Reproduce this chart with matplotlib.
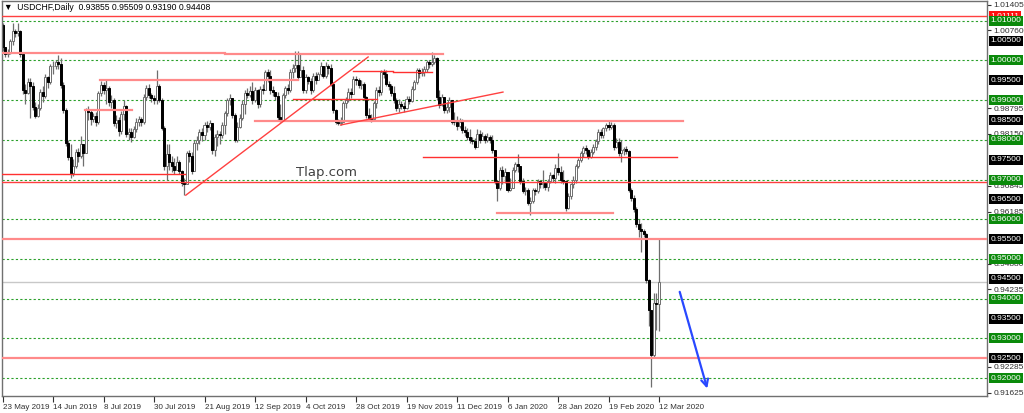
import numpy as np
import matplotlib
matplotlib.use('Agg')
import matplotlib.pyplot as plt
import matplotlib.transforms as mtransforms

plt.rcParams['font.family'] = ['Liberation Sans', 'DejaVu Sans']

# daily USDCHF bars, 23 May 2019 .. 12 Mar 2020 (open = previous close)
first_open = 1.0090
close = [
    1.0033, 1.0017, 1.0021, 1.0050, 1.0075, 1.0068, 1.0073, 1.0017, 0.9925, 0.9917,
    0.9946, 0.9935, 0.9883, 0.9860, 0.9880, 0.9920, 0.9910, 0.9958, 0.9945, 0.9985,
    0.9985, 0.9995, 0.9990, 0.9938, 0.9875, 0.9792, 0.9758, 0.9717, 0.9735, 0.9770,
    0.9760, 0.9790, 0.9768, 0.9875, 0.9870, 0.9852, 0.9860, 0.9846, 0.9917, 0.9938,
    0.9925, 0.9930, 0.9895, 0.9900, 0.9842, 0.9850, 0.9822, 0.9865, 0.9885, 0.9815,
    0.9820, 0.9808, 0.9828, 0.9845, 0.9852, 0.9845, 0.9908, 0.9930, 0.9912, 0.9905,
    0.9900, 0.9935, 0.9900, 0.9830, 0.9733, 0.9765, 0.9745, 0.9735, 0.9725, 0.9745,
    0.9722, 0.9692, 0.9690, 0.9767, 0.9760, 0.9722, 0.9792, 0.9800, 0.9820, 0.9812,
    0.9837, 0.9832, 0.9842, 0.9775, 0.9808, 0.9815, 0.9812, 0.9838, 0.9867, 0.9900,
    0.9905, 0.9863, 0.9800, 0.9833, 0.9855, 0.9890, 0.9917, 0.9912, 0.9922, 0.9900,
    0.9925, 0.9890, 0.9928, 0.9925, 0.9970, 0.9960, 0.9925, 0.9920, 0.9910, 0.9858,
    0.9850, 0.9912, 0.9930, 0.9925, 0.9970, 0.9980, 0.9988, 0.9958, 0.9975, 0.9925,
    0.9958, 0.9948, 0.9925, 0.9962, 0.9950, 0.9965, 0.9987, 0.9960, 0.9987, 0.9980,
    0.9942, 0.9875, 0.9846, 0.9842, 0.9845, 0.9892, 0.9900, 0.9921, 0.9915, 0.9954,
    0.9950, 0.9938, 0.9942, 0.9908, 0.9862, 0.9855, 0.9852, 0.9892, 0.9925, 0.9920,
    0.9970, 0.9965, 0.9942, 0.9935, 0.9917, 0.9900, 0.9880, 0.9890, 0.9885, 0.9880,
    0.9904, 0.9898, 0.9929, 0.9946, 0.9975, 0.9968, 0.9972, 0.9979, 0.9996, 0.9990,
    0.9996, 1.0005, 0.9908, 0.9888, 0.9908, 0.9875, 0.9882, 0.9900, 0.9846, 0.9845,
    0.9835, 0.9845, 0.9825, 0.9820, 0.9808, 0.9800, 0.9796, 0.9783, 0.9815, 0.9800,
    0.9810, 0.9800, 0.9808, 0.9800, 0.9775, 0.9696, 0.9680, 0.9725, 0.9710, 0.9720,
    0.9675, 0.9680, 0.9725, 0.9738, 0.9735, 0.9696, 0.9671, 0.9675, 0.9642, 0.9645,
    0.9675, 0.9670, 0.9696, 0.9688, 0.9692, 0.9682, 0.9696, 0.9712, 0.9705, 0.9730,
    0.9720, 0.9700, 0.9696, 0.9629, 0.9658, 0.9688, 0.9700, 0.9733, 0.9750, 0.9767,
    0.9779, 0.9775, 0.9758, 0.9770, 0.9783, 0.9796, 0.9821, 0.9812, 0.9829, 0.9837,
    0.9832, 0.9838, 0.9783, 0.9795, 0.9767, 0.9775, 0.9778, 0.9772, 0.9675, 0.9654,
    0.9625, 0.9588, 0.9575, 0.9570, 0.9562, 0.9447, 0.9372, 0.9258, 0.9389, 0.93855,
    0.94408,
]
high = [
    1.0095, 1.0035, 1.0030, 1.0055, 1.0095, 1.0080, 1.0095, 1.0078, 1.0010, 0.9940,
    0.9955, 0.9955, 0.9945, 0.9895, 0.9890, 0.9928, 0.9935, 0.9965, 0.9962, 0.9992,
    0.9998, 1.0002, 1.0015, 1.0005, 0.9945, 0.9880, 0.9800, 0.9790, 0.9752, 0.9778,
    0.9780, 0.9810, 0.9785, 0.9880, 0.9885, 0.9875, 0.9868, 0.9870, 0.9922, 0.9948,
    0.9945, 0.9950, 0.9935, 0.9912, 0.9905, 0.9862, 0.9858, 0.9872, 0.9900, 0.9888,
    0.9830, 0.9830, 0.9835, 0.9855, 0.9860, 0.9858, 0.9915, 0.9938, 0.9940, 0.9918,
    0.9912, 0.9975, 0.9940, 0.9905, 0.9835, 0.9790, 0.9790, 0.9760, 0.9755, 0.9760,
    0.9750, 0.9725, 0.9705, 0.9772, 0.9775, 0.9770, 0.9800, 0.9810, 0.9828, 0.9830,
    0.9845, 0.9848, 0.9850, 0.9840, 0.9815, 0.9825, 0.9822, 0.9845, 0.9872, 0.9905,
    0.9915, 0.9902, 0.9868, 0.9845, 0.9865, 0.9900, 0.9925, 0.9930, 0.9935, 0.9945,
    0.9932, 0.9928, 0.9935, 0.9940, 0.9975, 0.9978, 0.9975, 0.9935, 0.9920, 0.9920,
    0.9890, 0.9918, 0.9935, 0.9940, 0.9978, 0.9990, 1.0025, 1.0025, 1.0020, 0.9985,
    0.9965, 0.9960, 0.9955, 0.9968, 0.9970, 0.9972, 0.9995, 0.9985, 0.9995, 0.9990,
    0.9992, 0.9945, 0.9878, 0.9852, 0.9858, 0.9898, 0.9908, 0.9930, 0.9930, 0.9960,
    0.9962, 0.9955, 0.9950, 0.9945, 0.9910, 0.9880, 0.9865, 0.9898, 0.9932, 0.9935,
    0.9975, 0.9978, 0.9975, 0.9948, 0.9940, 0.9935, 0.9905, 0.9902, 0.9898, 0.9895,
    0.9910, 0.9910, 0.9935, 0.9952, 0.9980, 0.9982, 0.9980, 0.9985, 1.0000, 1.0002,
    1.0021, 1.0015, 1.0008, 0.9925, 0.9915, 0.9905, 0.9895, 0.9908, 0.9885, 0.9870,
    0.9860, 0.9855, 0.9852, 0.9835, 0.9830, 0.9828, 0.9808, 0.9805, 0.9828, 0.9825,
    0.9820, 0.9815, 0.9818, 0.9812, 0.9812, 0.9775, 0.9700, 0.9732, 0.9735, 0.9730,
    0.9715, 0.9705, 0.9732, 0.9745, 0.9765, 0.9730, 0.9705, 0.9682, 0.9680, 0.9655,
    0.9680, 0.9680, 0.9702, 0.9700, 0.9725, 0.9695, 0.9702, 0.9718, 0.9715, 0.9738,
    0.9767, 0.9735, 0.9725, 0.9700, 0.9665, 0.9692, 0.9708, 0.9740, 0.9755, 0.9772,
    0.9785, 0.9788, 0.9778, 0.9778, 0.9790, 0.9802, 0.9828, 0.9828, 0.9832, 0.9843,
    0.9848, 0.9845, 0.9842, 0.9805, 0.9805, 0.9800, 0.9782, 0.9785, 0.9775, 0.9680,
    0.9660, 0.9630, 0.9600, 0.9590, 0.9575, 0.9565, 0.9450, 0.9320, 0.9415, 0.9415,
    0.95509,
]
low = [
    1.0025, 1.0008, 1.0010, 1.0017, 1.0040, 1.0060, 1.0062, 1.0010, 0.9915, 0.9890,
    0.9915, 0.9855, 0.9875, 0.9855, 0.9858, 0.9875, 0.9895, 0.9905, 0.9930, 0.9940,
    0.9965, 0.9978, 0.9978, 0.9930, 0.9868, 0.9785, 0.9750, 0.9705, 0.9710, 0.9730,
    0.9745, 0.9755, 0.9735, 0.9770, 0.9850, 0.9838, 0.9845, 0.9835, 0.9840, 0.9910,
    0.9915, 0.9890, 0.9885, 0.9880, 0.9835, 0.9830, 0.9810, 0.9815, 0.9850, 0.9808,
    0.9800, 0.9795, 0.9805, 0.9820, 0.9835, 0.9835, 0.9840, 0.9900, 0.9905, 0.9895,
    0.9890, 0.9890, 0.9895, 0.9825, 0.9725, 0.9700, 0.9725, 0.9720, 0.9715, 0.9730,
    0.9715, 0.9685, 0.9662, 0.9688, 0.9745, 0.9715, 0.9730, 0.9775, 0.9790, 0.9798,
    0.9800, 0.9820, 0.9825, 0.9765, 0.9760, 0.9785, 0.9790, 0.9805, 0.9815, 0.9860,
    0.9888, 0.9855, 0.9795, 0.9795, 0.9830, 0.9850, 0.9865, 0.9905, 0.9908, 0.9890,
    0.9895, 0.9880, 0.9883, 0.9915, 0.9925, 0.9945, 0.9915, 0.9910, 0.9900, 0.9850,
    0.9845, 0.9850, 0.9905, 0.9915, 0.9920, 0.9955, 0.9970, 0.9950, 0.9960, 0.9918,
    0.9918, 0.9940, 0.9915, 0.9920, 0.9940, 0.9955, 0.9960, 0.9955, 0.9955, 0.9965,
    0.9935, 0.9868, 0.9840, 0.9837, 0.9838, 0.9845, 0.9880, 0.9895, 0.9905, 0.9915,
    0.9938, 0.9930, 0.9928, 0.9900, 0.9855, 0.9848, 0.9845, 0.9850, 0.9880, 0.9910,
    0.9912, 0.9955, 0.9935, 0.9925, 0.9910, 0.9892, 0.9872, 0.9870, 0.9878, 0.9870,
    0.9878, 0.9890, 0.9895, 0.9925, 0.9942, 0.9955, 0.9960, 0.9962, 0.9972, 0.9982,
    0.9985, 0.9990, 0.9900, 0.9880, 0.9885, 0.9868, 0.9868, 0.9870, 0.9840, 0.9838,
    0.9825, 0.9830, 0.9818, 0.9810, 0.9800, 0.9792, 0.9790, 0.9776, 0.9785, 0.9792,
    0.9800, 0.9792, 0.9795, 0.9792, 0.9768, 0.9690, 0.9646, 0.9675, 0.9690, 0.9692,
    0.9668, 0.9670, 0.9690, 0.9720, 0.9720, 0.9690, 0.9665, 0.9662, 0.9635, 0.9612,
    0.9640, 0.9660, 0.9665, 0.9678, 0.9680, 0.9675, 0.9670, 0.9692, 0.9695, 0.9692,
    0.9712, 0.9692, 0.9688, 0.9622, 0.9625, 0.9650, 0.9680, 0.9692, 0.9728, 0.9745,
    0.9758, 0.9765, 0.9752, 0.9755, 0.9765, 0.9775, 0.9790, 0.9805, 0.9805, 0.9822,
    0.9825, 0.9828, 0.9775, 0.9780, 0.9760, 0.9745, 0.9762, 0.9765, 0.9668, 0.9645,
    0.9618, 0.9580, 0.9555, 0.9517, 0.9555, 0.9440, 0.9330, 0.9177, 0.9250, 0.9320,
    0.93190,
]

date_labels = ['23 May 2019', '14 Jun 2019', '8 Jul 2019', '30 Jul 2019', '21 Aug 2019',
               '12 Sep 2019', '4 Oct 2019', '28 Oct 2019', '19 Nov 2019', '11 Dec 2019',
               '6 Jan 2020', '28 Jan 2020', '19 Feb 2020', '12 Mar 2020']
bars_per_label = 20

# price scale labels left visible by the level boxes
axis_ticks = [1.01405, 1.00760, 0.98795, 0.98150, 0.96845, 0.96185, 0.94880, 0.94235,
              0.92285, 0.91625]
green_levels = [1.01, 1.00, 0.99, 0.98, 0.97, 0.96, 0.95, 0.94, 0.93, 0.92]
black_levels = [1.005, 0.995, 0.985, 0.975, 0.965, 0.955, 0.945, 0.935, 0.925]
red_levels = [1.01111, 0.92518]

# drawn objects: (x0, x1, price) in bar units
pink_segments = [(-1, 88.1, 1.00196), (88.1, 174.5, 1.00171), (38.6, 117.0, 0.99508),
                 (32.7, 51.3, 0.98765), (100.0, 269.5, 0.98483), (195.8, 241.8, 0.96166)]
red_segments = [(115.0, 148.3, 0.99022), (138.8, 154.7, 0.99743), (154.7, 170.1, 0.99717),
                (166.5, 267.1, 0.97576), (-1, 72.3, 0.97133)]
trend_lines = [((72.6, 0.96607), (144.8, 1.00088)), ((133.9, 0.98375), (198.2, 0.99204))]
pink_full = [0.95500, 0.92518]
red_full = [1.01111, 0.96932]
last_price = 0.94408
arrow_start = (267.9, 0.9424)
arrow_end = (279.4, 0.9167)

fig = plt.figure(figsize=(10.24, 4.13), dpi=100)
ax = fig.add_axes([2 / 1024, 17 / 413, 985 / 1024, 395 / 413])
ax.set_xlim(-0.2, 389.9)
ax.set_ylim(0.91549, 1.01498)

# horizontal levels
for lv in green_levels:
    ax.axhline(lv, color='#2aa02a', lw=0.8, ls=(0, (2, 2)), zorder=1)
ax.axhline(last_price, color='#c8c8c8', lw=1.0, zorder=1)
for lv in pink_full:
    ax.axhline(lv, color='#ff8a8a', lw=1.6, zorder=3)
for lv in red_full:
    ax.axhline(lv, color='#ff4040', lw=1.0, zorder=3)
for x0, x1, p in pink_segments:
    ax.plot([x0, x1], [p, p], color='#ff8a8a', lw=1.6, zorder=3)
for x0, x1, p in red_segments:
    ax.plot([x0, x1], [p, p], color='#ff3030', lw=1.0, zorder=3)
for (x0, y0), (x1, y1) in trend_lines:
    ax.plot([x0, x1], [y0, y1], color='#ff4040', lw=1.0, zorder=3)

# candles
c = np.array(close)
h = np.array(high)
l = np.array(low)
o = np.r_[first_open, c[:-1]]
idx = np.arange(len(c))
up = c >= o
ax.vlines(idx, l, h, color='#6e6e6e', lw=0.9, zorder=2)
ax.bar(idx[up], np.maximum(c - o, 0.00008)[up], bottom=o[up], width=0.8,
       facecolor='white', edgecolor='#6e6e6e', lw=0.7, zorder=2.5)
ax.bar(idx[~up], (o - c)[~up], bottom=c[~up], width=0.8,
       facecolor='black', edgecolor='black', lw=0.7, zorder=2.5)

ax.annotate('', xy=arrow_end, xytext=arrow_start,
            arrowprops=dict(arrowstyle='->,head_length=0.5,head_width=0.25',
                            color='#2848ff', lw=1.6), zorder=4)

ax.text(116.2, 0.9719, 'Tlap.com', fontsize=9.5, color='#404040', va='center',
        family=['DejaVu Sans'])

# axes look
for side in ['left', 'bottom', 'right', 'top']:
    ax.spines[side].set_color('#707070')
    ax.spines[side].set_linewidth(1.0)
ax.yaxis.tick_right()
ax.set_yticks(axis_ticks)
ax.set_yticklabels([f'{t:.5f}' for t in axis_ticks])
ax.tick_params(axis='y', length=3, pad=1.5, labelsize=6, colors='#303030')
ax.set_xticks(np.arange(len(date_labels)) * bars_per_label)
ax.set_xticklabels(date_labels)
ax.tick_params(axis='x', length=4, pad=2, labelsize=5.8, colors='#303030')
for lbl in ax.get_xticklabels():
    lbl.set_ha('left')

blend = mtransforms.blended_transform_factory(ax.transAxes, ax.transData)
box_x = 1 + 3.5 / 985
for lv in red_levels:
    ax.text(box_x, lv, f'{lv:.5f}', transform=blend, fontsize=6, color='white', va='center',
            ha='left', bbox=dict(boxstyle='square,pad=0.18', fc='#ff1010', ec='none'),
            clip_on=False, zorder=5)
for lv in black_levels:
    ax.text(box_x, lv, f'{lv:.5f}', transform=blend, fontsize=6, color='white', va='center',
            ha='left', bbox=dict(boxstyle='square,pad=0.18', fc='black', ec='none'),
            clip_on=False, zorder=6)
for lv in green_levels:
    ax.text(box_x, lv, f'{lv:.5f}', transform=blend, fontsize=6, color='white', va='center',
            ha='left', bbox=dict(boxstyle='square,pad=0.18', fc='#0b8a0b', ec='none'),
            clip_on=False, zorder=6)

fig.text(4 / 1024, 1 - 8 / 413, '\u25bc  USDCHF,Daily  0.93855 0.95509 0.93190 0.94408',
         fontsize=6.2, color='black', va='center',
         family=['Liberation Sans', 'DejaVu Sans'])

fig.savefig('out.png', dpi=100, facecolor='white')
